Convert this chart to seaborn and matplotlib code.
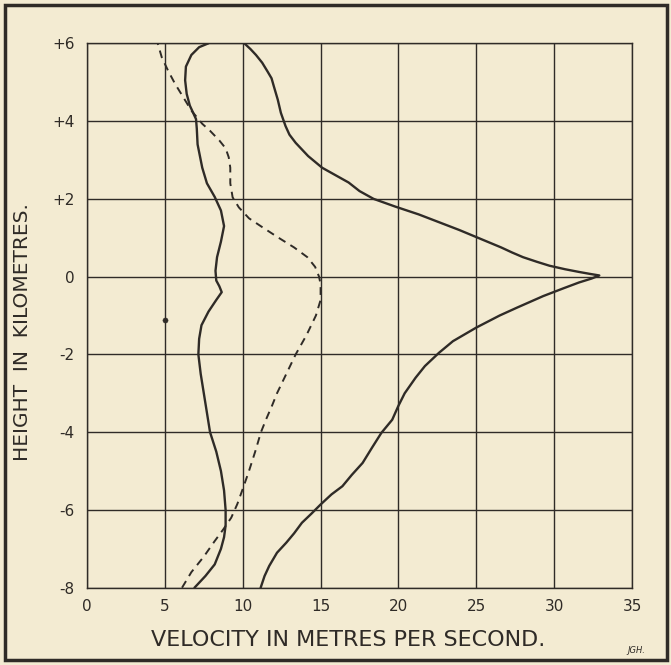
import matplotlib
matplotlib.use("Agg")
import matplotlib.pyplot as plt
import seaborn as sns
import pandas as pd
from matplotlib.patches import Rectangle

# heights (km) and velocities (m/s)
inner_height = [-8.0, -7.7, -7.4, -7.0, -6.7, -6.4, -6.0, -5.5, -5.0, -4.5, -4.0, -3.5,
                -3.0, -2.5, -2.0, -1.6, -1.25, -0.9, -0.6, -0.4, -0.25, -0.1, 0.15, 0.5,
                0.9, 1.3, 1.7, 2.05, 2.4, 2.8, 3.4, 3.8, 4.05, 4.4, 4.7, 5.05, 5.4,
                5.7, 5.9, 6.0]
inner_vel = [6.9, 7.6, 8.2, 8.6, 8.8, 8.9, 8.9, 8.8, 8.6, 8.3, 7.9, 7.7,
             7.5, 7.3, 7.15, 7.2, 7.35, 7.8, 8.3, 8.65, 8.5, 8.3, 8.25, 8.35,
             8.6, 8.8, 8.6, 8.2, 7.7, 7.4, 7.1, 7.05, 7.0, 6.6, 6.4, 6.3, 6.35,
             6.7, 7.2, 7.8]

outer_height = [-8.0, -7.7, -7.44, -7.1, -6.84, -6.6, -6.33, -6.1, -5.86, -5.6, -5.39, -5.1,
                -4.79, -4.4, -4.02, -3.68, -3.32, -3.0, -2.6, -2.3, -1.96, -1.66, -1.31,
                -1.0, -0.8, -0.5, -0.3, -0.15, -0.05, 0.03, 0.07, 0.12, 0.19, 0.28, 0.38,
                0.5, 0.62, 0.75, 0.9, 1.05, 1.2, 1.4, 1.6, 1.8, 2.0, 2.2, 2.42, 2.8, 3.1,
                3.44, 3.65, 3.87, 4.21, 4.55, 4.89, 5.1, 5.27, 5.5, 5.7, 5.85, 6.0]
outer_vel = [11.15, 11.4, 11.7, 12.2, 12.8, 13.3, 13.8, 14.4, 15.0, 15.7, 16.4, 17.0,
             17.7, 18.3, 18.9, 19.6, 20.0, 20.4, 21.1, 21.7, 22.6, 23.5, 25.0,
             26.5, 27.6, 29.3, 30.6, 31.6, 32.4, 32.9, 32.3, 31.6, 30.7, 29.7, 28.9,
             28.0, 27.3, 26.6, 25.7, 24.8, 23.9, 22.6, 21.3, 19.8, 18.4, 17.5, 16.8, 15.1,
             14.2, 13.4, 13.0, 12.75, 12.45, 12.25, 12.0, 11.85, 11.6, 11.25, 10.85,
             10.5, 10.1]

dashed_height = [-8.0, -7.6, -7.2, -6.8, -6.5, -6.2, -5.85, -5.46, -5.0, -4.5, -4.0, -3.67,
                 -3.3, -3.0, -2.5, -2.0, -1.5, -1.0, -0.6, -0.2, 0.0, 0.25, 0.5, 0.75,
                 1.0, 1.26, 1.5, 1.78, 2.04, 2.4, 2.8, 3.07, 3.3, 3.5, 3.75, 3.93, 4.27,
                 4.6, 4.96, 5.3, 5.64, 6.05]
dashed_vel = [6.1, 6.7, 7.5, 8.2, 8.75, 9.26, 9.65, 10.0, 10.4, 10.8, 11.17, 11.5,
              11.9, 12.2, 12.8, 13.4, 14.1, 14.7, 15.0, 15.0, 14.9, 14.65, 14.15, 13.3,
              12.3, 11.3, 10.4, 9.75, 9.35, 9.2, 9.2, 9.1, 8.9, 8.5, 7.9, 7.4, 6.7,
              6.2, 5.65, 5.2, 4.8, 4.5]

dot_vel = [5.0]
dot_height = [-1.12]

x_ticks = [0, 5, 10, 15, 20, 25, 30, 35]
y_ticks = [6, 4, 2, 0, -2, -4, -6, -8]
y_tick_labels = ["+6", "+4", "+2", "0", "-2", "-4", "-6", "-8"]

paper = "#f3ebd2"
ink = "#2f2b27"

sns.set_theme(style="white")
plt.rcParams["font.family"] = ["DejaVu Sans"]

fig = plt.figure(figsize=(6.71, 6.65), dpi=100, facecolor=paper)
ax = fig.add_axes([0.1297, 0.1162, 0.9419 - 0.1297, 0.9349 - 0.1162])
ax.set_facecolor(paper)

inner = pd.DataFrame({"vel": inner_vel, "height": inner_height})
outer = pd.DataFrame({"vel": outer_vel, "height": outer_height})
dashed = pd.DataFrame({"vel": dashed_vel, "height": dashed_height})

line_kw = dict(x="vel", y="height", sort=False, estimator=None, color=ink, ax=ax)
sns.lineplot(data=inner, linewidth=1.7, **line_kw)
sns.lineplot(data=outer, linewidth=1.7, **line_kw)
sns.lineplot(data=dashed, linewidth=1.4, linestyle=(0, (4, 3)), **line_kw)
sns.scatterplot(x=dot_vel, y=dot_height, color=ink, s=14, edgecolor=ink, ax=ax)

ax.set_xlim(0, 35)
ax.set_ylim(-8, 6)
ax.set_xticks(x_ticks)
ax.set_yticks(y_ticks)
ax.set_yticklabels(y_tick_labels)
ax.grid(True, color=ink, linewidth=1.0)
ax.set_axisbelow(True)
for s in ax.spines.values():
    s.set_color(ink)
    s.set_linewidth(1.0)
ax.tick_params(length=0, colors=ink, labelsize=11)
ax.tick_params(axis="x", pad=8)
ax.tick_params(axis="y", pad=9)

ax.set_xlabel("VELOCITY IN METRES PER SECOND.", fontsize=16, color=ink)
ax.xaxis.set_label_coords(0.48, -0.077)
ax.set_ylabel("HEIGHT  IN  KILOMETRES.", fontsize=14.5, color=ink)
ax.yaxis.set_label_coords(-0.101, 0.47)

fig.text(0.962, 0.018, "JGH.", fontsize=6, style="italic", color=ink, ha="right")
fig.patches.append(Rectangle((0.008, 0.008), 0.986, 0.985, transform=fig.transFigure,
                             fill=False, edgecolor=ink, linewidth=2.5))

fig.savefig("out.png", dpi=100, facecolor=paper)
